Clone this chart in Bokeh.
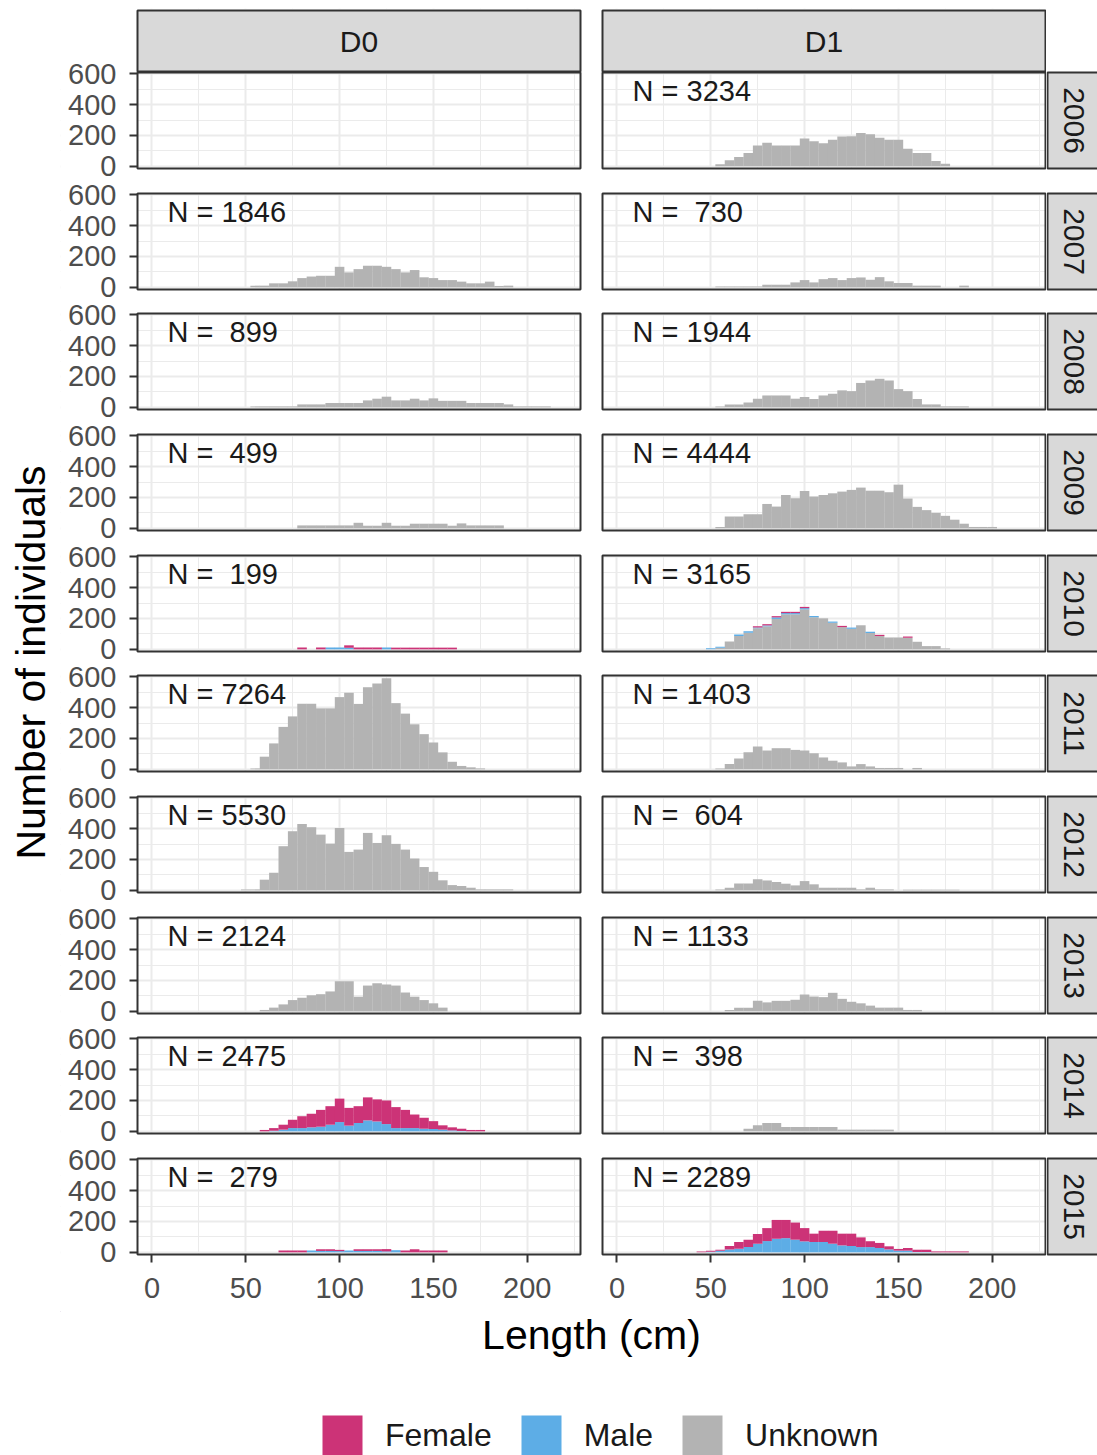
from math import pi

from bokeh.embed import file_html
from bokeh.layouts import column, row
from bokeh.models import (BoxAnnotation, ColumnDataSource, FixedTicker, Grid, Label,
                          Legend, LegendItem, LinearAxis, Range1d)
from bokeh.plotting import figure
from bokeh.resources import INLINE

FONT = "Liberation Sans"

# ---------------------------------------------------------------- data
years = [2006, 2007, 2008, 2009, 2010, 2011, 2012, 2013, 2014, 2015]
sites = ["D0", "D1"]
sexes = ["Female", "Male", "Unknown"]
sex_colors = {"Female": "#CC3377", "Male": "#5DADE6", "Unknown": "#B3B3B3"}

# midpoints of the 5-cm length classes
length_mids = [45, 50, 55, 60, 65, 70, 75, 80, 85, 90, 95, 100, 105, 110, 115,
               120, 125, 130, 135, 140, 145, 150, 155, 160, 165, 170, 175, 180,
               185, 190, 195, 200, 205, 210, 215]
length_ticks = [0, 50, 100, 150, 200]
length_minor = [25, 75, 125, 175, 225]
count_ticks = [0, 200, 400, 600]
count_minor = [100, 300, 500]

# each series: (midpoint of first length class, counts per class)
d0_2007_unknown = (55, [11, 11, 26, 26, 39, 60, 70, 75, 75, 133, 97, 118, 140, 140,
                        133, 118, 97, 112, 65, 60, 47, 47, 37, 26, 26, 37, 9, 11])
d0_2008_unknown = (55, [6, 6, 6, 6, 6, 19, 19, 19, 28, 28, 28, 28, 45, 56, 69, 45,
                        45, 56, 45, 58, 42, 42, 42, 28, 28, 28, 28, 19, 6, 6, 6, 6])
d0_2009_unknown = (80, [19, 19, 19, 19, 19, 19, 36, 17, 17, 36, 17, 17, 30, 30, 30,
                        30, 17, 32, 19, 19, 19, 19])
d0_2010_female = (80, [12, 0, 12, 0, 0, 16, 12, 12, 12, 0, 11, 11, 11, 11, 11, 11, 11])
d0_2010_male = (80, [0, 0, 0, 12, 12, 10, 0, 0, 0, 12, 0, 0, 0, 0, 0, 0, 0])
d0_2011_unknown = (55, [6, 82, 168, 275, 343, 425, 425, 395, 395, 468, 496, 424, 532,
                        556, 590, 429, 361, 292, 228, 174, 110, 49, 22, 13, 6])
d0_2012_unknown = (50, [6, 6, 69, 114, 286, 383, 430, 409, 361, 303, 404, 249, 264,
                        372, 307, 357, 301, 264, 206, 151, 120, 65, 34, 28, 17, 6, 6,
                        6, 6])
d0_2013_unknown = (60, [9, 24, 45, 73, 88, 104, 111, 129, 195, 195, 95, 167, 182, 174,
                        167, 122, 95, 73, 52, 24])
d0_2014_female = (60, [9, 17, 32, 54, 77, 88, 109, 120, 152, 115, 109, 149, 143, 153,
                       136, 118, 88, 71, 51, 28, 20, 15, 9, 9])
d0_2014_male = (60, [0, 4, 11, 21, 21, 26, 30, 43, 60, 37, 54, 71, 64, 47, 21, 21, 21,
                     17, 15, 11, 6, 2, 0, 0])
d0_2015_female = (70, [12, 12, 12, 0, 11, 11, 8, 0, 11, 11, 11, 15, 0, 12, 20, 12, 12, 12])
d0_2015_male = (70, [0, 0, 0, 12, 9, 9, 8, 12, 9, 9, 9, 6, 14, 0, 0, 0, 0, 0])

d1_2006_unknown = (55, [13, 39, 60, 86, 135, 153, 135, 135, 135, 180, 163, 150, 172,
                        193, 195, 216, 208, 185, 172, 172, 114, 86, 86, 34, 17])
d1_2007_unknown = (55, [6, 6, 6, 6, 6, 17, 17, 17, 32, 47, 32, 53, 60, 47, 60, 64, 49,
                        66, 39, 28, 28, 11, 11, 11, 0, 0, 11])
d1_2008_unknown = (55, [6, 19, 19, 32, 56, 77, 77, 77, 56, 67, 54, 77, 88, 110, 105,
                        158, 174, 185, 174, 118, 105, 54, 19, 19, 6, 6, 6])
d1_2009_unknown = (55, [9, 76, 76, 91, 91, 158, 141, 216, 195, 242, 206, 216, 227, 238,
                        249, 264, 244, 244, 234, 283, 193, 139, 118, 100, 81, 56, 30,
                        9, 9, 9])
d1_2010_female = (50, [0, 0, 0, 0, 0, 8, 8, 8, 8, 8, 8, 0, 0, 0, 8, 0, 0, 0, 8, 0, 0,
                       8, 0, 0, 0, 0])
d1_2010_male = (50, [7, 7, 0, 10, 10, 6, 6, 10, 8, 8, 8, 8, 0, 8, 0, 8, 0, 8, 0, 0, 0,
                     0, 0, 0, 0, 0])
d1_2010_unknown = (50, [0, 10, 50, 86, 108, 136, 149, 197, 227, 227, 259, 208, 201, 172,
                        144, 133, 156, 106, 86, 77, 77, 75, 49, 21, 21, 6])
d1_2011_unknown = (55, [6, 34, 71, 110, 148, 122, 137, 137, 126, 122, 104, 77, 56, 45,
                        19, 34, 19, 9, 9, 9, 0, 9])
d1_2012_unknown = (55, [6, 17, 45, 45, 72, 64, 54, 43, 32, 60, 39, 17, 17, 17, 17, 6,
                        17, 6, 6, 0, 4, 4, 4, 4, 4, 4])
d1_2013_unknown = (60, [9, 24, 24, 68, 58, 68, 68, 75, 109, 96, 92, 120, 81, 62, 52, 37,
                        24, 24, 24, 9, 9])
d1_2014_unknown = (70, [17, 39, 54, 54, 28, 28, 28, 28, 28, 28, 11, 11, 11, 11, 11, 11])
d1_2015_female = (45, [6, 6, 6, 22, 43, 48, 63, 84, 122, 118, 111, 86, 54, 73, 84, 76,
                       80, 63, 38, 33, 20, 11, 17, 15, 15, 6, 6, 6, 6])
d1_2015_male = (45, [0, 4, 11, 19, 24, 34, 56, 73, 88, 92, 82, 71, 67, 67, 56, 45, 41,
                     34, 34, 28, 19, 11, 11, 2, 2, 0, 0, 0, 0])

catch = {
    ("D0", 2007): {"Unknown": d0_2007_unknown},
    ("D0", 2008): {"Unknown": d0_2008_unknown},
    ("D0", 2009): {"Unknown": d0_2009_unknown},
    ("D0", 2010): {"Female": d0_2010_female, "Male": d0_2010_male},
    ("D0", 2011): {"Unknown": d0_2011_unknown},
    ("D0", 2012): {"Unknown": d0_2012_unknown},
    ("D0", 2013): {"Unknown": d0_2013_unknown},
    ("D0", 2014): {"Female": d0_2014_female, "Male": d0_2014_male},
    ("D0", 2015): {"Female": d0_2015_female, "Male": d0_2015_male},
    ("D1", 2006): {"Unknown": d1_2006_unknown},
    ("D1", 2007): {"Unknown": d1_2007_unknown},
    ("D1", 2008): {"Unknown": d1_2008_unknown},
    ("D1", 2009): {"Unknown": d1_2009_unknown},
    ("D1", 2010): {"Female": d1_2010_female, "Male": d1_2010_male,
                   "Unknown": d1_2010_unknown},
    ("D1", 2011): {"Unknown": d1_2011_unknown},
    ("D1", 2012): {"Unknown": d1_2012_unknown},
    ("D1", 2013): {"Unknown": d1_2013_unknown},
    ("D1", 2014): {"Unknown": d1_2014_unknown},
    ("D1", 2015): {"Female": d1_2015_female, "Male": d1_2015_male},
}

# ---------------------------------------------------------------- page geometry (px)
TITLE_W = 60
FRAME_W, PANEL_H = 443, 96
PANEL_TOPS = [72, 193, 313, 434, 555, 675, 796, 917, 1037, 1158]
PANELS_BOTTOM = PANEL_TOPS[-1] + PANEL_H
STRIP_TOP, STRIP_BOTTOM = 10, 71
F0, F1 = 8, 1311            # vertical extent of the plotting frames
PAGE_H = 1455
X_RANGE = (-7.7, 228.4)     # cm shown inside a panel
Y_RANGE = (-14, 608)        # counts shown inside a panel
PX_PER_CM = FRAME_W / (X_RANGE[1] - X_RANGE[0])
UNITS_PER_PX = (Y_RANGE[1] - Y_RANGE[0]) / PANEL_H

STRIP_FILL = "#D9D9D9"
DARK = "#333333"
GRID = "#EBEBEB"
TICK_TEXT = "#4D4D4D"
TEXT = "#1A1A1A"


def expand(series):
    start, counts = series
    out = [0] * len(length_mids)
    i0 = length_mids.index(start)
    for k, c in enumerate(counts):
        out[i0 + k] = c
    return out


def style_axis(a, ticks, standoff):
    a.ticker = FixedTicker(ticks=ticks)
    a.axis_line_color = None
    a.major_tick_line_color = DARK
    a.major_tick_line_width = 2
    a.major_tick_in = 0
    a.major_tick_out = 8
    a.minor_tick_line_color = None
    a.major_label_text_font = FONT
    a.major_label_text_font_size = "29px"
    a.major_label_text_color = TICK_TEXT
    a.major_label_standoff = standoff


def white_box(**kw):
    return BoxAnnotation(fill_color="white", fill_alpha=1, line_color=None,
                         level="underlay", **kw)


def site_column(site, pad_left, pad_right, border_left):
    """All ten yearly panels of one site stacked inside a single frame."""
    x0 = X_RANGE[0] - pad_left / PX_PER_CM
    x1 = X_RANGE[1] + pad_right / PX_PER_CM
    p = figure(frame_width=FRAME_W + pad_left + pad_right, frame_height=F1 - F0,
               x_range=Range1d(x0, x1), y_range=Range1d(F1, F0),
               x_axis_location="below", y_axis_location=None,
               min_border_left=border_left, min_border_right=0,
               min_border_top=F0, min_border_bottom=0,
               output_backend="svg", toolbar_location=None)
    p.outline_line_color = None
    p.background_fill_color = "white"
    p.border_fill_color = "white"
    p.ygrid.visible = False
    p.xgrid.ticker = FixedTicker(ticks=length_ticks, minor_ticks=length_minor)
    p.xgrid.grid_line_color = GRID
    p.xgrid.grid_line_width = 2
    p.xgrid.minor_grid_line_color = GRID
    p.xgrid.minor_grid_line_width = 1
    for a in p.xaxis:
        style_axis(a, length_ticks, 15)
        a.fixed_location = PANELS_BOTTOM

    # one count scale per year, each mapped onto its own band of the frame
    for i, top in enumerate(PANEL_TOPS):
        name = f"y{i}"
        p.extra_y_ranges[name] = Range1d(Y_RANGE[1] - (F1 - top) * UNITS_PER_PX,
                                         Y_RANGE[1] + (top - F0) * UNITS_PER_PX)
        p.add_layout(Grid(dimension=1, y_range_name=name,
                          ticker=FixedTicker(ticks=count_ticks, minor_ticks=count_minor),
                          grid_line_color=GRID, grid_line_width=2,
                          minor_grid_line_color=GRID, minor_grid_line_width=1), "center")

    # blank the space around and between the panels
    edges = [F0]
    for top in PANEL_TOPS:
        edges += [top, top + PANEL_H]
    edges.append(F1)
    for a, b in zip(edges[0::2], edges[1::2]):
        p.add_layout(white_box(top=a, bottom=b))
    p.add_layout(white_box(right=X_RANGE[0]))
    p.add_layout(white_box(left=X_RANGE[1]))

    # facet strip on top
    p.add_layout(BoxAnnotation(left=X_RANGE[0], right=X_RANGE[1], top=STRIP_TOP,
                               bottom=STRIP_BOTTOM, fill_color=STRIP_FILL, fill_alpha=1,
                               line_color=DARK, line_alpha=1, line_width=2))
    p.add_layout(Label(x=(X_RANGE[0] + X_RANGE[1]) / 2, y=(STRIP_TOP + STRIP_BOTTOM) / 2,
                       text=site, text_font=FONT, text_font_size="30px",
                       text_color=TEXT, text_align="center", text_baseline="middle"))

    stack = ["Unknown", "Male", "Female"]
    for i, year in enumerate(years):
        name = f"y{i}"
        data = catch.get((site, year), {})
        cols = {s: expand(data[s]) if s in data else [0] * len(length_mids)
                for s in sexes}
        total = sum(sum(v) for v in cols.values())
        if total:
            src = ColumnDataSource(dict(mid=length_mids, **cols))
            p.vbar_stack(stack, x="mid", width=5.1, source=src, y_range_name=name,
                         fill_color=[sex_colors[s] for s in stack], line_color=None)
            label = "N = " + f"{total:4d}".replace(" ", "\u00a0")
            p.add_layout(Label(x=8.3, y=490, y_range_name=name, text=label,
                               text_font=FONT, text_font_size="29px", text_color=TEXT,
                               text_align="left", text_baseline="middle"))
        p.add_layout(BoxAnnotation(left=X_RANGE[0], right=X_RANGE[1],
                                   bottom=Y_RANGE[0], top=Y_RANGE[1],
                                   y_range_name=name, fill_alpha=0,
                                   line_color=DARK, line_alpha=1, line_width=2))
        if site == "D0":
            ax = LinearAxis(y_range_name=name, fixed_location=X_RANGE[0])
            style_axis(ax, count_ticks, 13)
            p.add_layout(ax, "left")
    return p


def year_strips(x_left, x_right):
    s = figure(frame_width=x_right - x_left, frame_height=F1 - F0,
               x_range=Range1d(x_left, x_right), y_range=Range1d(F1, F0),
               x_axis_location=None, y_axis_location=None,
               min_border_left=0, min_border_right=0,
               min_border_top=F0, min_border_bottom=0,
               output_backend="svg", toolbar_location=None)
    s.grid.visible = False
    s.outline_line_color = None
    s.background_fill_color = "white"
    s.border_fill_color = "white"
    for year, top in zip(years, PANEL_TOPS):
        s.add_layout(BoxAnnotation(left=x_left + 1, right=x_right + 10, top=top,
                                   bottom=top + PANEL_H, fill_color=STRIP_FILL,
                                   fill_alpha=1, line_color=DARK, line_alpha=1,
                                   line_width=2))
        s.add_layout(Label(x=(x_left + x_right) / 2 + 2, y=top + PANEL_H / 2,
                           text=str(year), angle=-pi / 2, text_font=FONT,
                           text_font_size="30px", text_color=TEXT,
                           text_align="center", text_baseline="middle"))
    return s


def blank(x0, x1, y0, y1):
    b = figure(width=x1 - x0, height=y1 - y0, x_range=Range1d(x0, x1),
               y_range=Range1d(y1, y0), x_axis_location=None,
               y_axis_location=None, min_border=0,
               output_backend="svg", toolbar_location=None)
    b.grid.visible = False
    b.outline_line_color = None
    b.background_fill_color = "white"
    b.border_fill_color = "white"
    return b


# ---------------------------------------------------------------- assemble
d0 = site_column("D0", 77, 2, 0)      # frame from page x 60; panel box 137..580
d1 = site_column("D1", 2, 1, 18)      # panel box at page x 602..1045
strips = year_strips(1046, 1097)

foot = blank(TITLE_W, 1097, F1, PAGE_H)
foot.add_layout(Label(x=591, y=1334, text="Length (cm)", text_font=FONT,
                      text_font_size="41px", text_color="black",
                      text_align="center", text_baseline="middle"))
items = []
for s in sexes:
    r = foot.vbar(x=[0], top=[0], width=0, fill_color=sex_colors[s], line_color=None)
    items.append(LegendItem(label=s, renderers=[r]))
legend = Legend(items=items, orientation="horizontal", location=(317 - TITLE_W, -5),
                glyph_width=50, glyph_height=50, label_standoff=18, spacing=24,
                padding=0, margin=0, border_line_color=None,
                background_fill_alpha=0, label_text_font=FONT,
                label_text_font_size="32px", label_text_color=TEXT)
foot.add_layout(legend)

ytitle = blank(0, TITLE_W, 0, PAGE_H)
ytitle.add_layout(Label(x=30, y=662, text="Number of individuals", angle=pi / 2,
                        text_font=FONT, text_font_size="41px", text_color="black",
                        text_align="center", text_baseline="middle"))

p = row(ytitle, column(row(d0, d1, strips), foot))

open("out.html", "w").write(file_html(p, INLINE))
